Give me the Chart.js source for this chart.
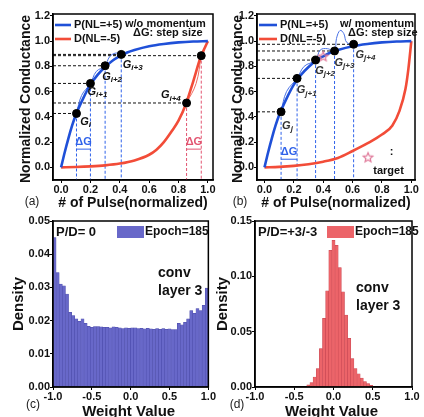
<!DOCTYPE html>
<html>
<head>
<meta charset="utf-8">
<title>Conductance update and weight distribution</title>
<script src="https://cdn.jsdelivr.net/npm/chart.js@4.4.1/dist/chart.umd.min.js"></script>
<style>
  html, body { margin: 0; padding: 0; background: #fff; }
  body { position: relative; width: 424px; height: 417px; overflow: hidden; }
  canvas { position: absolute; }
</style>
</head>
<body>
<canvas id="chartA" width="218" height="212" style="left:0;top:0;width:218px;height:212px"></canvas>
<canvas id="chartB" width="212" height="212" style="left:212px;top:0;width:212px;height:212px"></canvas>
<canvas id="chartC" width="216" height="215" style="left:0;top:206px;width:216px;height:215px"></canvas>
<canvas id="chartD" width="212" height="215" style="left:212px;top:206px;width:212px;height:215px"></canvas>
<script>
(function () {
    'use strict';

    // ---- (a)/(b): potentiation and depression curves ----
    var pulseX = [0, 0.025, 0.05, 0.075, 0.1, 0.15, 0.2, 0.25, 0.3, 0.35, 0.4, 0.45, 0.5, 0.6, 0.7, 0.8, 0.9, 1.0];
    var potG = [0, 0.12, 0.23, 0.33, 0.415, 0.545, 0.655, 0.735, 0.795, 0.845, 0.88, 0.91, 0.93, 0.96, 0.978, 0.99, 0.997, 1.0];
    var depXa = [0, 0.1, 0.2, 0.3, 0.4, 0.5, 0.6, 0.65, 0.7, 0.75, 0.8, 0.85, 0.9, 0.95, 0.98, 1.0];
    var depGa = [0, 0.003, 0.008, 0.016, 0.03, 0.055, 0.1, 0.14, 0.2, 0.28, 0.37, 0.5, 0.68, 0.87, 0.95, 1.0];
    var depXb = [0, 0.1, 0.2, 0.3, 0.4, 0.5, 0.6, 0.7, 0.8, 0.87, 0.92, 0.96, 0.98, 1.0];
    var depGb = [0, 0.004, 0.012, 0.025, 0.045, 0.075, 0.13, 0.19, 0.26, 0.33, 0.45, 0.62, 0.78, 1.0];
    var pulseTicks = [0, 0.2, 0.4, 0.6, 0.8, 1.0];
    var condTicks = [0, 0.2, 0.4, 0.6, 0.8, 1.0, 1.2];

    // (a) without momentum
    var stepXa = [0.105, 0.2, 0.3, 0.41];
    var stepGa = [0.427, 0.665, 0.805, 0.895];
    var depStepXa = [0.855, 0.955];
    var depStepGa = [0.51, 0.885];
    var subsA = ['i', 'i+1', 'i+2', 'i+3', 'i+4'];
    var labelXa = [0.13, 0.18, 0.28, 0.42, 0.68];
    var labelYa = [0.36, 0.6, 0.72, 0.815, 0.57];
    var momXa = [0.105, 0.14, 0.2, 0.24, 0.3, 0.33, 0.37, 0.41];
    var momGa = [0.427, 0.57, 0.665, 0.76, 0.805, 0.875, 0.905, 0.895];
    var momDepXa = [0.855, 0.92, 0.955];
    var momDepGa = [0.51, 0.665, 0.885];

    // (b) with momentum
    var stepXb = [0.113, 0.222, 0.348, 0.477, 0.607];
    var stepGb = [0.44, 0.705, 0.85, 0.922, 0.975];
    var subsB = ['j', 'j+1', 'j+2', 'j+3', 'j+4'];
    var labelXb = [0.12, 0.22, 0.345, 0.477, 0.62];
    var labelYb = [0.33, 0.61, 0.765, 0.83, 0.89];
    var momXb = [0.113, 0.15, 0.222, 0.27, 0.348, 0.38, 0.43, 0.477, 0.49, 0.515, 0.54, 0.56, 0.607];
    var momGb = [0.44, 0.6, 0.705, 0.8, 0.85, 0.93, 0.94, 0.922, 1.02, 1.085, 1.06, 0.99, 0.975];
    var targetX = [0.4, 0.705];
    var targetG = [0.877, 0.077];

    // ---- (c)/(d): weight histograms, epoch 185 ----
    var binC = [-0.98, -0.94, -0.9, -0.86, -0.82, -0.78, -0.74, -0.7, -0.66, -0.62,
        -0.58, -0.54, -0.5, -0.46, -0.42, -0.38, -0.34, -0.3, -0.26, -0.22,
        -0.18, -0.14, -0.1, -0.06, -0.02, 0.02, 0.06, 0.1, 0.14, 0.18,
        0.22, 0.26, 0.3, 0.34, 0.38, 0.42, 0.46, 0.5, 0.54, 0.58,
        0.62, 0.66, 0.7, 0.74, 0.78, 0.82, 0.86, 0.9, 0.94, 0.98];
    var densC = [0.045, 0.0345, 0.031, 0.0305, 0.028, 0.0225, 0.0215, 0.0205, 0.0198, 0.0205,
        0.0192, 0.0183, 0.018, 0.0182, 0.0182, 0.0181, 0.018, 0.018, 0.0178, 0.0181,
        0.018, 0.0178, 0.0176, 0.0178, 0.0177, 0.0178, 0.0178, 0.0176, 0.0177, 0.0175,
        0.0177, 0.0175, 0.0174, 0.0176, 0.0174, 0.0176, 0.0174, 0.0175, 0.0173, 0.0173,
        0.0192, 0.0187, 0.0195, 0.0205, 0.023, 0.0222, 0.0236, 0.023, 0.0246, 0.0298];
    var binD = [-0.32, -0.28, -0.24, -0.2, -0.16, -0.12, -0.08, -0.04, 0, 0.04, 0.08,
        0.12, 0.16, 0.2, 0.24, 0.28, 0.32, 0.36, 0.4, 0.44, 0.48];
    var densD = [0.002, 0.004, 0.009, 0.0166, 0.0347, 0.062, 0.087, 0.1235, 0.1325, 0.128, 0.108,
        0.086, 0.065, 0.044, 0.0257, 0.0166, 0.012, 0.008, 0.005, 0.003, 0.0015];
    var weightTicks = [-1, -0.5, 0, 0.5, 1];
    var densTicksC = [0, 0.01, 0.02, 0.03, 0.04, 0.05];
    var densTicksD = [0, 0.05, 0.1, 0.15];

    var FONT = '"Liberation Sans", Arial, Helvetica, sans-serif';
    var BLUE = '#1f50d8';
    var RED = '#f24c38';
    var BLUE_DASH = '#2f62ea';
    var RED_DASH = '#e25470';
    var PINK = '#e07a9a';
    var INK = '#111';

    Chart.defaults.font.family = FONT;
    Chart.defaults.color = INK;

    function font(size, weight) {
        return (weight || 'bold') + ' ' + size + 'px ' + FONT;
    }

    function pts(xs, ys) {
        return xs.map(function (x, i) { return {x: x, y: ys[i]}; });
    }

    // outlined five-point star used as the "target" marker
    function starImage(r, color) {
        var c = document.createElement('canvas');
        c.width = c.height = 2 * r + 4;
        var g = c.getContext('2d');
        g.strokeStyle = color;
        g.lineWidth = 1.2;
        g.beginPath();
        for (var k = 0; k < 10; k++) {
            var rr = k % 2 === 0 ? r : r * 0.45;
            var ang = -Math.PI / 2 + k * Math.PI / 5;
            var px = r + 2 + rr * Math.cos(ang), py = r + 2 + rr * Math.sin(ang);
            if (k === 0) { g.moveTo(px, py); } else { g.lineTo(px, py); }
        }
        g.closePath();
        g.stroke();
        return c;
    }

    function text(ctx, s, x, y, f, color, align) {
        ctx.save();
        ctx.font = f;
        ctx.fillStyle = color || INK;
        ctx.textAlign = align || 'left';
        ctx.textBaseline = 'middle';
        ctx.fillText(s, x, y);
        ctx.restore();
    }

    function vText(ctx, s, x, y, f) {
        ctx.save();
        ctx.translate(x, y);
        ctx.rotate(-Math.PI / 2);
        text(ctx, s, 0, 0, f, INK, 'center');
        ctx.restore();
    }

    function hLine(ctx, x0, x1, y, color, w) {
        ctx.save();
        ctx.strokeStyle = color;
        ctx.lineWidth = w;
        ctx.beginPath();
        ctx.moveTo(x0, y);
        ctx.lineTo(x1, y);
        ctx.stroke();
        ctx.restore();
    }

    function frame(ctx, a) {
        ctx.save();
        ctx.strokeStyle = '#000';
        ctx.lineWidth = 1.5;
        ctx.strokeRect(a.left, a.top, a.right - a.left, a.bottom - a.top);
        ctx.restore();
    }

    function gLabel(ctx, x, y, sub, color) {
        ctx.save();
        ctx.fillStyle = color;
        ctx.textAlign = 'left';
        ctx.textBaseline = 'middle';
        ctx.font = font(11, 'italic bold');
        ctx.fillText('G', x, y);
        var w = ctx.measureText('G').width;
        ctx.font = font(8, 'italic bold');
        ctx.fillText(sub, x + w, y + 3);
        ctx.restore();
    }

    function axis(range, ticks, fmt, size) {
        return {
            type: 'linear',
            min: range[0],
            max: range[1],
            offset: false,
            afterBuildTicks: function (s) {
                s.ticks = ticks.map(function (v) { return {value: v}; });
            },
            afterFit: function (s) {
                if (s.isHorizontal()) { s.height = size; } else { s.width = size; }
            },
            ticks: {
                callback: function (v) { return v.toFixed(fmt); },
                font: {size: 11, weight: 'bold'},
                color: INK,
                padding: 0,
                maxRotation: 0,
                autoSkip: false
            },
            grid: {drawOnChartArea: false, offset: false, tickLength: 3, color: '#000'},
            border: {color: '#000', width: 1.5}
        };
    }

    function seg(xs, ys, color) {
        return {
            data: pts(xs, ys), showLine: true, pointRadius: 0,
            borderColor: color, borderWidth: 1, borderDash: [3, 2]
        };
    }

    function curve(xs, ys, color, w) {
        return {
            data: pts(xs, ys), showLine: true, pointRadius: 0, borderColor: color,
            borderWidth: w, cubicInterpolationMode: 'monotone'
        };
    }

    function dots(xs, ys) {
        return {
            data: pts(xs, ys), showLine: false, pointRadius: 4,
            pointBackgroundColor: '#000', pointBorderColor: '#000'
        };
    }

    function conductanceChart(id, p) {
        var ds = [dots(p.stepX, p.stepG), dots(p.depStepX, p.depStepG)];
        if (p.targetX) {
            ds.push({
                data: pts(p.targetX, p.targetG), showLine: false,
                pointStyle: starImage(5, PINK), pointRadius: 5
            });
        }
        ds.push(curve(pulseX, potG, BLUE, 2.6));
        ds.push(curve(p.depX, p.depG, RED, 2.6));
        ds.push({data: pts(p.momX, p.momG), showLine: true, pointRadius: 0, borderColor: '#4a72e6', borderWidth: 1, tension: 0.4});
        if (p.momDepX) {
            ds.push({data: pts(p.momDepX, p.momDepG), showLine: true, pointRadius: 0, borderColor: '#ee6a60', borderWidth: 1, tension: 0.4});
        }
        p.stepX.forEach(function (x, i) {
            ds.push(seg([p.xRange[0], x], [p.stepG[i], p.stepG[i]], INK));
            ds.push(seg([x, x], [p.stepG[i], -0.1], BLUE_DASH));
        });
        p.depStepX.forEach(function (x, i) {
            ds.push(seg([p.xRange[0], x], [p.depStepG[i], p.depStepG[i]], INK));
            ds.push(seg([x, x], [p.depStepG[i], -0.1], RED_DASH));
        });

        return new Chart(document.getElementById(id), {
            type: 'scatter',
            data: {datasets: ds},
            options: {
                responsive: false,
                animation: false,
                events: [],
                layout: {padding: {top: 14, right: p.padRight, left: 0, bottom: 0}, autoPadding: false},
                plugins: {legend: {display: false}, tooltip: {enabled: false}},
                scales: {
                    x: axis(p.xRange, pulseTicks, 1, 32),
                    y: axis([-0.1, 1.215], condTicks, 1, p.yWidth)
                }
            },
            plugins: [{
                id: 'extras' + id,
                afterDraw: function (chart) {
                    var ctx = chart.ctx, a = chart.chartArea;
                    var sx = chart.scales.x, sy = chart.scales.y;
                    frame(ctx, a);

                    // legend
                    hLine(ctx, a.left + 2, a.left + p.swatch, a.top + 11, BLUE, 2.6);
                    text(ctx, 'P(NL=+5)', a.left + p.swatch + 3, a.top + 11, font(11));
                    hLine(ctx, a.left + 2, a.left + p.swatch, a.top + 25, RED, 2.6);
                    text(ctx, 'D(NL=-5)', a.left + p.swatch + 3, a.top + 25, font(11));
                    text(ctx, p.mode, a.left + p.modeX, a.top + 10, font(11));
                    text(ctx, '\u0394G: step size', a.left + p.modeX + 8, a.top + 19, font(11));

                    // conductance state labels
                    p.labelX.forEach(function (x, i) {
                        gLabel(ctx, sx.getPixelForValue(x), sy.getPixelForValue(p.labelY[i]), p.subs[i], p.gColor);
                    });

                    // step size markers
                    p.deltas.forEach(function (d) {
                        var x0 = sx.getPixelForValue(d.from), x1 = sx.getPixelForValue(d.to);
                        text(ctx, '\u0394G', (x0 + x1) / 2, sy.getPixelForValue(d.y), font(11), d.color, 'center');
                        hLine(ctx, x0, x1, sy.getPixelForValue(d.y) + 7, d.color, 1);
                    });

                    if (p.targetX) {
                        text(ctx, ':', sx.getPixelForValue(0.865), sy.getPixelForValue(0.12), font(11), INK, 'center');
                        text(ctx, 'target', sx.getPixelForValue(0.845), sy.getPixelForValue(-0.025), font(11), INK, 'center');
                    }

                    vText(ctx, 'Normalized Conductance', 26, (a.top + a.bottom) / 2 + 2, font(14));
                    text(ctx, '# of Pulse(normalized)', (a.left + a.right) / 2, 203, font(14), INK, 'center');
                    text(ctx, p.tag, p.tagX, 202, font(12, 'normal'), '#222', 'center');
                }
            }]
        });
    }

    function histChart(id, p) {
        return new Chart(document.getElementById(id), {
            type: 'bar',
            data: {
                datasets: [{
                    data: pts(p.bins, p.dens),
                    backgroundColor: p.fill,
                    borderColor: p.edge,
                    borderWidth: 0.5,
                    barPercentage: 1,
                    categoryPercentage: 1
                }]
            },
            options: {
                responsive: false,
                animation: false,
                events: [],
                layout: {padding: {top: 15, right: p.padRight, left: 0, bottom: 0}, autoPadding: false},
                plugins: {legend: {display: false}, tooltip: {enabled: false}},
                scales: {
                    x: axis([-1, 1], weightTicks, 1, 34),
                    y: axis([0, p.yMax], p.yTicks, 2, p.yWidth)
                }
            },
            plugins: [{
                id: 'extras' + id,
                afterDraw: function (chart) {
                    var ctx = chart.ctx, a = chart.chartArea;
                    frame(ctx, a);
                    text(ctx, p.pd, a.left + 3, a.top + 11, font(13));
                    ctx.save();
                    ctx.fillStyle = p.fill;
                    ctx.fillRect(a.left + p.boxX, a.top + 5, 27, 12);
                    ctx.restore();
                    text(ctx, 'Epoch=185', a.left + p.boxX + 28, a.top + 11, font(12));
                    text(ctx, 'conv', a.left + p.convX, a.top + p.convY, font(14));
                    text(ctx, 'layer 3', a.left + p.convX, a.top + p.convY + 18, font(14));
                    vText(ctx, 'Density', p.titleX, (a.top + a.bottom) / 2, font(15));
                    text(ctx, 'Weight Value', (a.left + a.right) / 2 - 2, 206, font(15), INK, 'center');
                    text(ctx, p.tag, p.tagX, 199, font(12, 'normal'), '#222', 'center');
                }
            }]
        });
    }

    conductanceChart('chartA', {
        xRange: [-0.055, 1.035], padRight: 5, yWidth: 53,
        stepX: stepXa, stepG: stepGa, depStepX: depStepXa, depStepG: depStepGa,
        depX: depXa, depG: depGa, momX: momXa, momG: momGa, momDepX: momDepXa, momDepG: momDepGa,
        labelX: labelXa, labelY: labelYa, subs: subsA, gColor: '#111',
        swatch: 18, mode: 'w/o momentum', modeX: 72,
        deltas: [
            {from: stepXa[0], to: stepXa[1], y: 0.2, color: BLUE_DASH},
            {from: depStepXa[0], to: depStepXa[1], y: 0.2, color: RED_DASH}
        ],
        tag: '(a)', tagX: 32
    });

    conductanceChart('chartB', {
        xRange: [-0.051, 1.025], padRight: 9, yWidth: 45,
        stepX: stepXb, stepG: stepGb, depStepX: [], depStepG: [],
        depX: depXb, depG: depGb, momX: momXb, momG: momGb,
        targetX: targetX, targetG: targetG,
        labelX: labelXb, labelY: labelYb, subs: subsB, gColor: '#333',
        swatch: 20, mode: 'w/ momentum', modeX: 83,
        deltas: [{from: stepXb[0], to: stepXb[1], y: 0.12, color: BLUE_DASH}],
        tag: '(b)', tagX: 28
    });

    histChart('chartC', {
        bins: binC, dens: densC, fill: '#6868c9', edge: '#4a4aa8',
        yMax: 0.05, yTicks: densTicksC, yWidth: 53, padRight: 6,
        pd: 'P/D= 0', boxX: 64, convX: 105, convY: 52,
        titleX: 19, tag: '(c)', tagX: 33
    });

    histChart('chartD', {
        bins: binD, dens: densD, fill: '#ec6469', edge: '#c44450',
        yMax: 0.15, yTicks: densTicksD, yWidth: 43, padRight: 12,
        pd: 'P/D=+3/-3', boxX: 72, convX: 101, convY: 67,
        titleX: 11, tag: '(d)', tagX: 25
    });
})();
</script>
</body>
</html>
